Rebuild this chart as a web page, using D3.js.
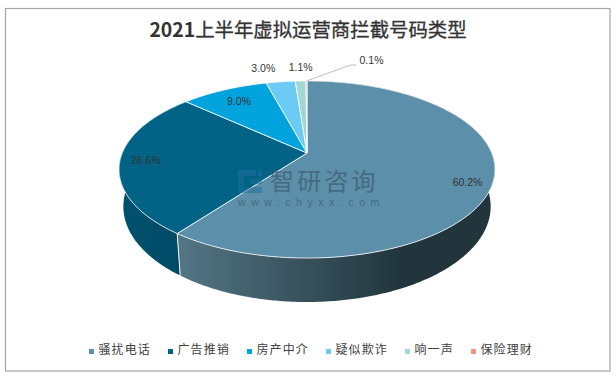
<!DOCTYPE html>
<html>
<head>
<meta charset="utf-8">
<script src="https://cdn.jsdelivr.net/npm/d3@7"></script>
<style>
  html, body { margin: 0; padding: 0; background: #fff; }
  svg { display: block; }
  text { font-family: "Noto Sans CJK SC", "Liberation Sans", sans-serif; }
</style>
</head>
<body>
<div id="chart"></div>
<script>
// Chart values
const categories = ["骚扰电话", "广告推销", "房产中介", "疑似欺诈", "响一声", "保险理财"];
const values = [60.2, 26.6, 9.0, 3.0, 1.1, 0.1];
const labels = ["60.2%", "26.6%", "9.0%", "3.0%", "1.1%", "0.1%"];
const colors = ["#5c8fa9", "#006385", "#00a3dc", "#6ccbf5", "#a0d8d6", "#f0957f"];

const width = 616, height = 377;

// Pie geometry: a tilted disc seen in perspective, so the centre is not mid-ellipse
const cx = 307, cy = 153;
const rx = 184.7, ry = 85.5, persp = 0.186;
const depth = 35.8, shrink = 0.977;

// where each value label sits, as a share of radius plus a small nudge
const labelRadius = [0.9, 0.9, 0.8, 1.2, 1.2, 1.2];
const labelNudge = [[-6, 3], [7, 0], [0, 0], [-13, -2], [1, -2], [0, 0]];

const svg = d3.select("#chart")
  .append("svg")
  .attr("width", width)
  .attr("height", height);

// Outer frame
svg.append("rect")
  .attr("x", 5.5)
  .attr("y", 8.5)
  .attr("width", 604.5)
  .attr("height", 362.5)
  .attr("fill", "#fff")
  .attr("stroke", "#a6a6a6")
  .attr("stroke-width", 1.2);

// Title, the digits are heavier than the Chinese part
const title = svg.append("text")
  .attr("x", 308)
  .attr("y", 37)
  .attr("text-anchor", "middle")
  .attr("font-size", "19.4px")
  .attr("fill", "#333");
title.append("tspan")
  .attr("font-weight", "bold")
  .text("2021");
title.append("tspan")
  .attr("stroke", "#333")
  .attr("stroke-width", 0.3)
  .text("上半年虚拟运营商拦截号码类型");

// Map an angle (clockwise from the back) and radius share to the screen
function project(angle, r, low) {
  const u = Math.sin(angle) * r;
  const v = -Math.cos(angle) * r;
  const w = 1 - persp * v;
  if (low) {
    return [cx + shrink * rx * u / w, cy + (ry * v + depth) / w];
  }
  return [cx + rx * u / w, cy + ry * v / w];
}

const pie = d3.pie().sort(null).value(d => d);
const slices = pie(values);
const line = d3.line();

function arcPoints(a0, a1, low) {
  const n = Math.max(2, Math.ceil((a1 - a0) / 0.01));
  return d3.range(n + 1).map(i => project(a0 + (a1 - a0) * i / n, 1, low));
}

// Side wall gradients
const defs = svg.append("defs");
const wallStops = [
  ["#537685", "#22353d", 178, 400],
  ["#00516e", "#004a66", 120, 180]
];
wallStops.forEach((s, i) => {
  const g = defs.append("linearGradient")
    .attr("id", "wall" + i)
    .attr("gradientUnits", "userSpaceOnUse")
    .attr("x1", s[2]).attr("x2", s[3])
    .attr("y1", 0).attr("y2", 0);
  g.append("stop").attr("offset", "0%").attr("stop-color", s[0]);
  g.append("stop").attr("offset", "100%").attr("stop-color", s[1]);
});

// Walls first, the top faces cover whatever is at the back
svg.append("g")
  .selectAll("path")
  .data(slices.slice(0, 2))
  .enter().append("path")
  .attr("d", d => line(arcPoints(d.startAngle, d.endAngle, false)
    .concat(arcPoints(d.startAngle, d.endAngle, true).reverse())) + "Z")
  .attr("fill", (d, i) => "url(#wall" + i + ")");

// White seam where the two walls meet
const seam = slices[0].endAngle;
svg.append("path")
  .attr("d", line([project(seam, 1, false), project(seam, 1, true)]))
  .attr("stroke", "#fff")
  .attr("stroke-width", 1)
  .attr("fill", "none");

// Top faces
svg.append("g")
  .selectAll("path")
  .data(slices)
  .enter().append("path")
  .attr("d", d => line([[cx, cy]].concat(arcPoints(d.startAngle, d.endAngle, false))) + "Z")
  .attr("fill", (d, i) => colors[i])
  .attr("stroke", "#fff")
  .attr("stroke-width", 0.8)
  .attr("stroke-linejoin", "round");

// Watermark
const mark = svg.append("g");
mark.append("path")
  .attr("d", "M238 170H256V176H244V187H262V193H238ZM250 179H262V184H250ZM258 170H262V176H258Z")
  .attr("fill", "#1f6f9c")
  .attr("opacity", 0.5);
mark.append("text")
  .attr("x", 270)
  .attr("y", 190)
  .attr("font-size", "24px")
  .attr("letter-spacing", "3.2px")
  .attr("fill", "#3e5f75")
  .attr("opacity", 0.75)
  .text("智研咨询");
mark.append("text")
  .attr("x", 238)
  .attr("y", 206)
  .attr("font-size", "10.5px")
  .attr("letter-spacing", "5.55px")
  .style("font-family", "'Liberation Sans', sans-serif")
  .attr("fill", "#3e5f75")
  .attr("opacity", 0.75)
  .text("www.chyxx.com");

// Leader for the smallest slice
const leaderStart = project(slices[5].startAngle + slices[5].value * Math.PI / 100, 1, false);
svg.append("path")
  .attr("d", line([leaderStart, [leaderStart[0] + 44, 65], [leaderStart[0] + 50, 65]]))
  .attr("stroke", "#bfbfbf")
  .attr("stroke-width", 1)
  .attr("fill", "none");

// Value labels
svg.append("g")
  .selectAll("text")
  .data(slices)
  .enter().append("text")
  .attr("x", (d, i) => {
    if (i === 5) return leaderStart[0] + 65;
    return project((d.startAngle + d.endAngle) / 2, labelRadius[i], false)[0] + labelNudge[i][0];
  })
  .attr("y", (d, i) => {
    if (i === 5) return 64;
    return project((d.startAngle + d.endAngle) / 2, labelRadius[i], false)[1] + labelNudge[i][1] + 4;
  })
  .attr("text-anchor", "middle")
  .attr("font-size", "10.5px")
  .style("font-family", "'Liberation Sans', sans-serif")
  .attr("fill", "#333")
  .text((d, i) => labels[i]);

// Legend
let legendX = 89;
categories.forEach((name, i) => {
  svg.append("rect")
    .attr("x", legendX)
    .attr("y", 349)
    .attr("width", 5)
    .attr("height", 5)
    .attr("fill", colors[i]);
  svg.append("text")
    .attr("x", legendX + 9.5)
    .attr("y", 354)
    .attr("font-size", "12px")
    .attr("letter-spacing", "1.1px")
    .attr("fill", "#404040")
    .text(name);
  legendX += 9.5 + name.length * 13 + 17.5;
});
</script>
</body>
</html>
